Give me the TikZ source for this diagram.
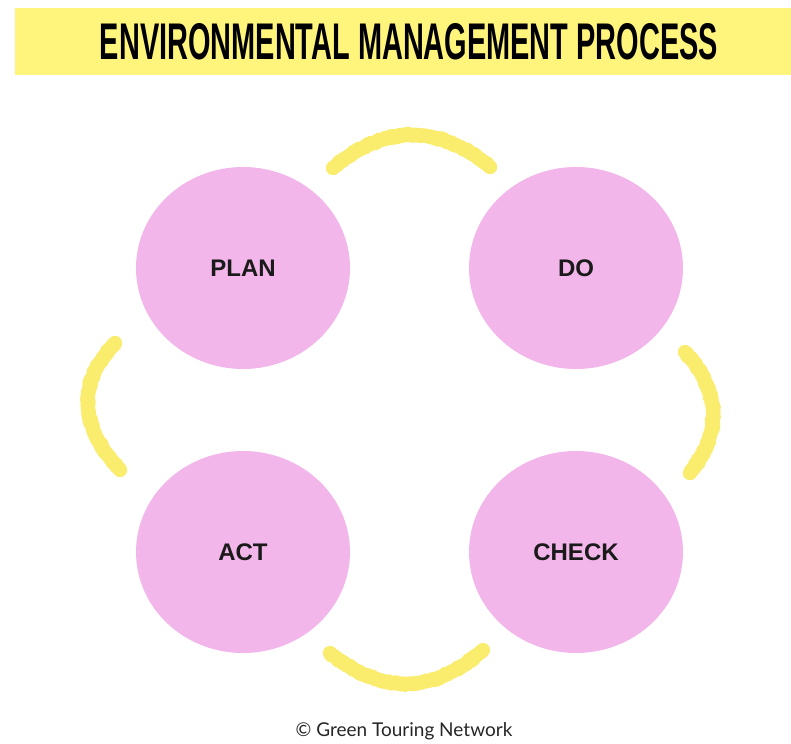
\documentclass[tikz,border=0pt]{standalone}
\usepackage{fontspec}
\setmainfont{Liberation Sans}
\newfontfamily\creditfont{Lato}
\usetikzlibrary{shapes.geometric,decorations.pathmorphing}

\definecolor{bannerylw}{HTML}{FFF47C}
\definecolor{arcylw}{HTML}{FAEC6C}
\definecolor{stagepink}{HTML}{F2B6EA}
\definecolor{labelink}{HTML}{1A1A1A}

\begin{document}
\begin{tikzpicture}[x=1pt,y=-1pt,
  stage/.style={ellipse,fill=stagepink,minimum width=214pt,minimum height=202pt,
    inner sep=0pt,text=labelink,font=\fontsize{24}{24}\selectfont\bfseries},
  cyclearc/.style={arcylw,line width=14pt,line cap=round},
  roughedge/.style={arcylw,line width=14pt,line cap=round,line join=round,
    decorate,decoration={random steps,segment length=2pt,amplitude=1.2pt}}]
 \useasboundingbox (0,0) rectangle (791,743);
 \pgfmathsetseed{7}

 % banner
 \node[fill=bannerylw,minimum width=776pt,minimum height=67pt,inner sep=0pt] (banner) at (403,41.5) {};
 \node (title) at (409,42) {\resizebox{618pt}{36pt}{\bfseries ENVIRONMENTAL MANAGEMENT PROCESS}};

 % the four stages
 \foreach \name/\x/\y/\txt in {plan/243/268/PLAN,do/576/268/DO,act/243/552/ACT,check/576/552/CHECK}
 {
  \node[stage] (\name) at (\x,\y) {\txt};
 }

 % arc ends
 \coordinate (pd1) at (333,168);
 \coordinate (pd2) at (490,167);
 \coordinate (dc1) at (685,352);
 \coordinate (dc2) at (690,473);
 \coordinate (ca1) at (483,650);
 \coordinate (ca2) at (330,653);
 \coordinate (ap1) at (120,470);
 \coordinate (ap2) at (115,343);

 \foreach \look in {cyclearc,roughedge}
 {
  \draw[\look] (pd1) .. controls (386,124) and (438,124) .. (pd2);
  \draw[\look] (dc1) .. controls (721,392) and (722,432) .. (dc2);
  \draw[\look] (ca1) .. controls (433,694) and (382,695) .. (ca2);
  \draw[\look] (ap1) .. controls (79,426) and (77,383) .. (ap2);
 }

 \node[font=\creditfont\fontsize{19}{19}\selectfont,text=black!85] (credit) at (404,731) {© Green Touring Network};
\end{tikzpicture}
\end{document}
